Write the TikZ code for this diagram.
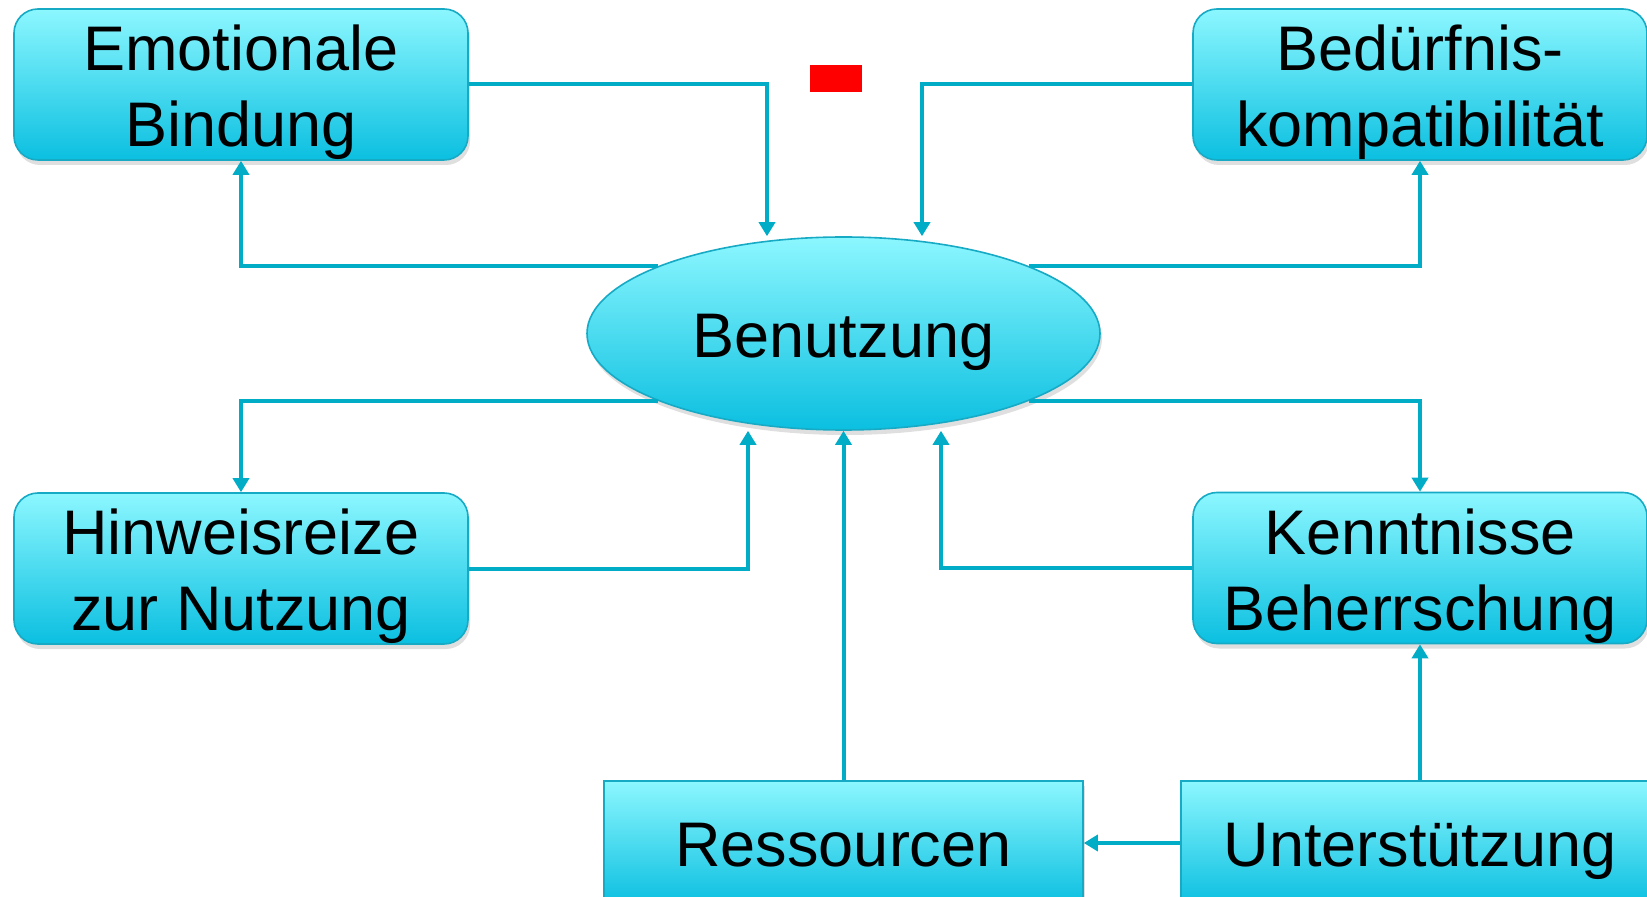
\documentclass[tikz,border=0pt]{standalone}
\usepackage{fontspec}
\setmainfont{Liberation Sans}
\usetikzlibrary{arrows.meta,shapes.geometric,shadows}

\definecolor{linecyan}{HTML}{00ACC6}
\definecolor{boxtop}{HTML}{8CF7FF}
\definecolor{boxbottom}{HTML}{0BBFE0}
\definecolor{boxline}{HTML}{17AAC5}

% strut for the first line of two-line boxes
\newcommand{\uprule}{\rule{0pt}{30.8pt}}

\begin{document}
\begin{tikzpicture}[x=0.5pt, y=-0.5pt,
  box/.style={draw=boxline, line width=0.8pt, top color=boxtop, bottom color=boxbottom,
    drop shadow={opacity=0.25, shadow xshift=1pt, shadow yshift=-2.5pt},
    minimum width=227pt, minimum height=75.5pt, inner ysep=0pt, align=center,
    font=\fontsize{31.5}{38}\selectfont},
  rbox/.style={box, rounded corners=12pt},
  oneline/.style={text height=30pt, text depth=6.4pt},
  conn/.style={draw=linecyan, line width=2pt, -{Triangle[length=7pt,width=8pt]}}]
  \useasboundingbox (0,0) rectangle (1647,897);
  \clip (0,0) rectangle (1647,897);

  % Boxes
  \node[rbox] (emo) at (241,84.5) {\uprule Emotionale\\Bindung};
  \node[rbox] (bed) at (1420,84.5) {\uprule Bedürfnis-\\kompatibilität};
  \node[rbox] (hin) at (241,568.5) {\uprule Hinweisreize\\zur Nutzung};
  \node[rbox] (ken) at (1420,568) {\uprule Kenntnisse\\Beherrschung};
  \node[box, oneline, ellipse, minimum width=256.5pt, minimum height=96.5pt] (benutz) at (843.5,333.5) {Benutzung};
  \node[box, oneline, minimum width=239.5pt, minimum height=62pt] (res) at (843.5,843) {Ressourcen};
  \node[box, oneline, minimum width=239pt, minimum height=62pt] (unt) at (1420,843) {Unterstützung};

  \fill[red] (810,65) rectangle (862,92);

  % Connectors
  \draw[conn] (emo.east) -| ([xshift=-38.25pt]benutz.north);
  \draw[conn] (bed.west) -| ([xshift=39.25pt]benutz.north);
  \draw[conn] (benutz.160) -| (emo.south);
  \draw[conn] (benutz.20) -| (bed.south);
  \draw[conn] (benutz.200) -| (hin.north);
  \draw[conn] (benutz.340) -| (ken.north);
  \draw[conn] (hin.east) -| ([xshift=-47.75pt]benutz.south);
  \draw[conn] (res.north) -- (benutz.south);
  \draw[conn] (ken.west) -| ([xshift=48.75pt]benutz.south);
  \draw[conn] (unt.north) -- (ken.south);
  \draw[conn] (unt.west) -- (res.east);
\end{tikzpicture}
\end{document}
